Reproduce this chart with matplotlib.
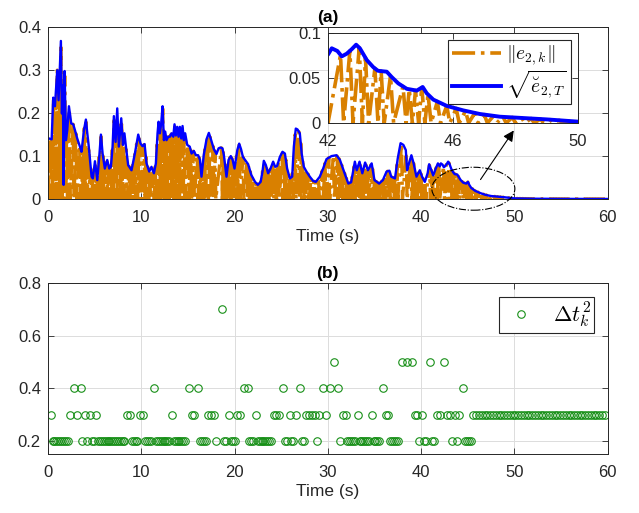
import numpy as np
import matplotlib
matplotlib.use('Agg')
import matplotlib.pyplot as plt
from matplotlib.patches import Ellipse

plt.rcParams['font.family'] = ['Liberation Sans', 'DejaVu Sans']
plt.rcParams['mathtext.fontset'] = 'cm'

# threshold envelope sqrt(e_2,T)
env_t = [0.1, 0.4, 0.57, 0.75, 1.0, 1.14, 1.39, 1.5, 1.6, 1.68,
         1.79, 1.93, 2.07, 2.25, 2.5, 2.71, 2.9, 3.14, 3.43, 3.6,
         3.86, 4.07, 4.2, 4.36, 4.68, 4.82, 5.04, 5.29, 5.5, 5.68,
         5.86, 6.1, 6.36, 6.57, 6.75, 6.93, 7.07, 7.25, 7.43, 7.6,
         7.86, 8.04, 8.2, 8.36, 8.6, 8.96, 9.32, 9.68, 9.93, 10.14,
         10.36, 10.57, 10.86, 11.1, 11.36, 11.57, 11.75, 11.86, 12.0, 12.14,
         12.29, 12.43, 12.57, 12.71, 12.9, 13.07, 13.25, 13.43, 13.57, 13.71,
         13.86, 14.0, 14.14, 14.29, 14.43, 14.57, 14.71, 14.93, 15.2, 15.4,
         15.64, 15.86, 16.1, 16.3, 16.46, 16.7, 17.0, 17.25, 17.5, 17.79,
         18.07, 18.29, 18.5, 18.71, 18.86, 19.14, 19.36, 19.6, 19.8, 20.0,
         20.3, 20.5, 20.7, 20.9, 21.2, 21.46, 21.8, 22.2, 22.5, 22.8,
         23.0, 23.14, 23.36, 23.6, 23.86, 24.14, 24.36, 24.57, 24.86, 25.14,
         25.4, 25.64, 25.93, 26.18, 26.36, 26.57, 26.75, 27.0, 27.2, 27.43,
         27.71, 28.07, 28.43, 28.71, 29.14, 29.5, 29.86, 30.4, 30.93, 31.3,
         31.8, 32.2, 32.5, 32.9, 33.1, 33.4, 33.7, 34.0, 34.3, 34.7,
         35.0, 35.5, 35.9, 36.3, 36.6, 36.8, 37.2, 37.5, 37.8, 38.1,
         38.36, 38.5, 38.7, 38.96, 39.2, 39.5, 39.86, 40.1, 40.4, 40.7,
         40.86, 41.1, 41.3, 41.57, 41.8, 42.0, 42.12, 42.3, 42.44, 42.6,
         42.76, 42.9, 43.02, 43.24, 43.45, 43.6, 43.88, 44.04, 44.25, 44.52,
         44.84, 45.03, 45.16, 45.37, 45.8, 46.33, 46.86, 47.5, 48.14, 49.0,
         50.0, 52.0, 55.0, 60.0]
env_v = [0.141, 0.139, 0.236, 0.216, 0.300, 0.230, 0.368, 0.199, 0.265, 0.033,
         0.298, 0.137, 0.160, 0.216, 0.176, 0.174, 0.160, 0.141, 0.122, 0.110,
         0.160, 0.185, 0.157, 0.126, 0.052, 0.048, 0.088, 0.044, 0.098, 0.150,
         0.106, 0.071, 0.091, 0.071, 0.075, 0.122, 0.193, 0.133, 0.211, 0.122,
         0.188, 0.126, 0.153, 0.122, 0.079, 0.067, 0.106, 0.150, 0.129, 0.123,
         0.128, 0.083, 0.064, 0.075, 0.060, 0.083, 0.153, 0.180, 0.153, 0.176,
         0.216, 0.137, 0.157, 0.137, 0.145, 0.145, 0.153, 0.145, 0.174, 0.148,
         0.168, 0.145, 0.168, 0.141, 0.170, 0.137, 0.153, 0.126, 0.122, 0.106,
         0.112, 0.102, 0.102, 0.091, 0.052, 0.102, 0.139, 0.154, 0.137, 0.116,
         0.105, 0.118, 0.120, 0.118, 0.102, 0.052, 0.091, 0.100, 0.091, 0.071,
         0.114, 0.129, 0.116, 0.098, 0.089, 0.081, 0.056, 0.040, 0.033, 0.040,
         0.064, 0.089, 0.079, 0.060, 0.071, 0.087, 0.075, 0.077, 0.098, 0.110,
         0.106, 0.071, 0.048, 0.052, 0.122, 0.164, 0.162, 0.153, 0.106, 0.075,
         0.064, 0.052, 0.042, 0.040, 0.052, 0.071, 0.093, 0.100, 0.102, 0.091,
         0.060, 0.036, 0.039, 0.087, 0.067, 0.087, 0.060, 0.085, 0.067, 0.083,
         0.044, 0.036, 0.044, 0.064, 0.066, 0.052, 0.048, 0.095, 0.130, 0.126,
         0.114, 0.067, 0.083, 0.102, 0.083, 0.052, 0.067, 0.052, 0.040, 0.060,
         0.081, 0.067, 0.055, 0.071, 0.083, 0.076, 0.083, 0.080, 0.074, 0.077,
         0.082, 0.087, 0.083, 0.070, 0.062, 0.058, 0.057, 0.051, 0.044, 0.038,
         0.036, 0.040, 0.033, 0.026, 0.019, 0.014, 0.010, 0.007, 0.0057, 0.004,
         0.0015, 0.0008, 0.0004, 0.0002]

# inter-event times of agent 2, in event order (panel b)
dt2 = ([0.3] + [0.2] * 9 + [0.3, 0.4, 0.3, 0.4, 0.2, 0.3, 0.2, 0.3, 0.2, 0.2, 0.3]
       + [0.2] * 15 + [0.3, 0.3] + [0.2] * 4 + [0.3, 0.3] + [0.2] * 4 + [0.4]
       + [0.2] * 8 + [0.3] + [0.2] * 7 + [0.4, 0.3, 0.3, 0.4] + [0.2] * 4
       + [0.3, 0.3, 0.3, 0.2, 0.7, 0.2, 0.2, 0.3] + [0.2] * 3 + [0.3, 0.3, 0.4, 0.4]
       + [0.2] * 3 + [0.3] + [0.2] * 8
       + [0.3, 0.3, 0.3, 0.4, 0.2, 0.2, 0.3, 0.2, 0.2, 0.3, 0.4, 0.2, 0.2, 0.3,
          0.3, 0.3, 0.3, 0.2, 0.3, 0.4, 0.3, 0.4, 0.5, 0.4, 0.2, 0.3, 0.3]
       + [0.2] * 5 + [0.3] + [0.2] * 6 + [0.3] + [0.2] * 4 + [0.4, 0.3, 0.3]
       + [0.2] * 5
       + [0.5, 0.5, 0.5, 0.3, 0.3, 0.2, 0.3, 0.2, 0.2, 0.5, 0.2, 0.2, 0.3, 0.3,
          0.5, 0.3, 0.3, 0.2, 0.3, 0.2, 0.3, 0.4]
       + [0.2] * 4 + [0.3] * 48)

orange = '#D98000'
blue = '#0000FF'
green = '#168F16'
dark = '#262626'

# event instants and the error sawtooth that resets at every event
trig = np.concatenate([[0.0], np.cumsum(dt2)])
peak = np.interp(trig[1:] - 0.1, env_t, env_v)
saw_t, saw_v = [], []
for k in range(len(dt2)):
    saw_t += [trig[k], trig[k + 1] - 0.1, trig[k + 1]]
    saw_v += [0.0, peak[k], 0.0]


def style(ax):
    ax.tick_params(direction='in', top=True, right=True, length=4, width=0.6,
                   colors=dark, labelsize=12)
    ax.tick_params(axis='x', pad=8)
    ax.tick_params(axis='y', pad=5)
    for s in ax.spines.values():
        s.set_color(dark)
        s.set_linewidth(0.7)
    ax.grid(True, color='#dcdcdc', lw=0.7)
    ax.set_axisbelow(True)


fig = plt.figure(figsize=(6.39, 5.13), dpi=100)
ax1 = fig.add_axes([0.075, 0.612, 0.876, 0.335])
ax2 = fig.add_axes([0.075, 0.115, 0.876, 0.333])

# (a)
ax1.plot(saw_t, saw_v, '-.', color=orange, lw=2.4)
ax1.plot(env_t, env_v, '-', color=blue, lw=1.7)
ax1.set_xlim(0, 60)
ax1.set_ylim(0, 0.4)
ax1.set_xticks([0, 10, 20, 30, 40, 50, 60])
ax1.set_yticks([0, 0.1, 0.2, 0.3, 0.4])
ax1.set_yticklabels(['0', '0.1', '0.2', '0.3', '0.4'])
style(ax1)
ax1.set_xlabel('Time (s)', fontsize=12.5, color=dark, labelpad=3)
ax1.set_title('(a)', fontsize=12.5, fontweight='bold', pad=4)

ell = Ellipse((45.6, 0.024), 8.9, 0.1, fill=False, ls='-.', lw=0.8, ec='k',
              clip_on=False, zorder=5)
ax1.add_patch(ell)
ax1.annotate('', xy=(50.1, 0.165), xytext=(46.2, 0.040),
             arrowprops=dict(arrowstyle='-|>', color='k', lw=0.8, mutation_scale=16),
             annotation_clip=False, zorder=5)

# zoomed inset
axin = fig.add_axes([328 / 639, 1 - 123 / 513, 250 / 639, 90 / 513])
axin.plot(saw_t, saw_v, '-.', color=orange, lw=2.6, label=r'$\Vert e_{2,k}\Vert$')
axin.plot(env_t, env_v, '-', color=blue, lw=2.8, label=r'$\sqrt{\breve{e}_{2,T}}$')
axin.set_xlim(42, 50)
axin.set_ylim(0, 0.1)
axin.set_xticks([42, 46, 50])
axin.set_yticks([0, 0.05, 0.1])
axin.set_yticklabels(['0', '0.05', '0.1'])
style(axin)
axin.set_facecolor('white')
leg = axin.legend(loc='upper right', fontsize=14, fancybox=False, framealpha=1,
                  edgecolor=dark, handlelength=2.5, borderaxespad=0.35,
                  labelspacing=0.05, handletextpad=0.3, borderpad=0.2)
leg.get_frame().set_linewidth(0.8)

# (b)
ax2.plot(trig[1:], dt2, 'o', mfc='none', mec=green, ms=5.4, mew=0.8,
         label=r'$\Delta t_k^2$')
ax2.set_xlim(0, 60)
ax2.set_ylim(0.15, 0.8)
ax2.set_xticks([0, 10, 20, 30, 40, 50, 60])
ax2.set_yticks([0.2, 0.4, 0.6, 0.8])
style(ax2)
ax2.set_xlabel('Time (s)', fontsize=12.5, color=dark, labelpad=3)
ax2.set_title('(b)', fontsize=12.5, fontweight='bold', pad=4)
leg2 = ax2.legend(loc='upper right', fontsize=16, fancybox=False, framealpha=1,
                  edgecolor=dark, handlelength=1.7, handletextpad=0.6,
                  borderaxespad=0.6, borderpad=0.15)
leg2.get_frame().set_linewidth(0.8)

fig.savefig('out.png', dpi=100)
